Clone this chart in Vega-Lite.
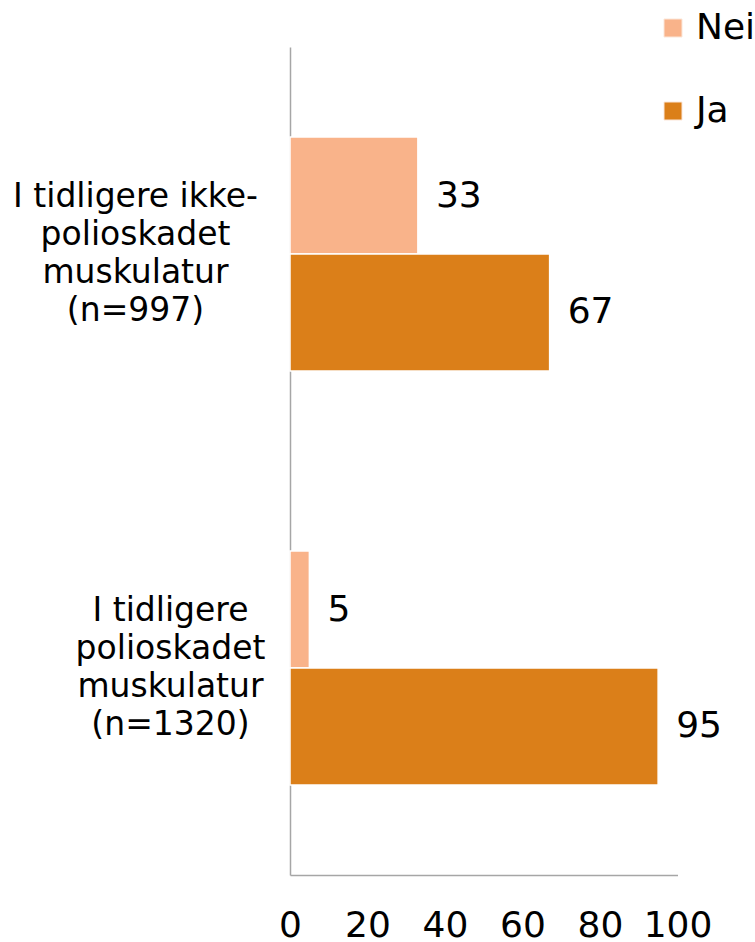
{
  "$schema": "https://vega.github.io/schema/vega-lite/v6.json",
  "width": 387.5,
  "height": 828,
  "autosize": {"type": "none"},
  "padding": {"left": 290, "top": 47, "right": 77, "bottom": 67},
  "background": "white",
  "config": {"view": {"stroke": null}, "font": "DejaVu Sans"},
  "data": {
    "values": [
      {"cat": "I tidligere ikke-|polioskadet|muskulatur|(n=997)", "ans": "Nei", "value": 33},
      {"cat": "I tidligere ikke-|polioskadet|muskulatur|(n=997)", "ans": "Ja", "value": 67},
      {"cat": "I tidligere|polioskadet|muskulatur|(n=1320)", "ans": "Nei", "value": 5},
      {"cat": "I tidligere|polioskadet|muskulatur|(n=1320)", "ans": "Ja", "value": 95}
    ]
  },
  "encoding": {
    "y": {
      "field": "cat",
      "type": "nominal",
      "sort": null,
      "scale": {"paddingInner": 0.435, "paddingOuter": 0.2175},
      "axis": {
        "title": null,
        "ticks": false,
        "tickSize": 0,
        "domainColor": "#a6a6a6",
        "domainWidth": 1.5,
        "labelExpr": "split(datum.label, '|')",
        "labelFontSize": 33,
        "labelColor": "#000000",
        "labelLineHeight": 38,
        "labelAlign": "center",
        "labelBaseline": "middle",
        "labelOffset": -57,
        "labelPadding": {"condition": {"test": "indexof(datum.value, 'ikke') >= 0", "value": 155}, "value": 120},
        "labelLimit": 400
      }
    },
    "yOffset": {"field": "ans", "type": "nominal", "scale": {"domain": ["Nei", "Ja"]}},
    "x": {
      "field": "value",
      "type": "quantitative",
      "scale": {"domain": [0, 100], "nice": false},
      "axis": {
        "title": null,
        "values": [0, 20, 40, 60, 80, 100],
        "grid": false,
        "ticks": false,
        "tickSize": 0,
        "domainColor": "#a6a6a6",
        "domainWidth": 1.5,
        "labelFontSize": 36,
        "labelColor": "#000000",
        "labelPadding": 33,
        "labelBaseline": "top",
        "labelFlush": false,
        "labelOverlap": false
      }
    }
  },
  "layer": [
    {
      "mark": {"type": "bar", "stroke": "#ffffff", "strokeWidth": 1.5},
      "encoding": {
        "color": {
          "field": "ans",
          "type": "nominal",
          "scale": {"domain": ["Nei", "Ja"], "range": ["#F9B38A", "#DB7F19"]},
          "legend": {
            "title": null,
            "orient": "none",
            "legendX": 365,
            "legendY": -37,
            "padding": 0,
            "symbolType": "square",
            "symbolSize": 324,
            "symbolStrokeColor": "#fbe6d8",
            "symbolStrokeWidth": 1,
            "labelFontSize": 36,
            "labelColor": "#000000",
            "labelOffset": 5,
            "rowPadding": 47,
            "labelLimit": 300
          }
        }
      }
    },
    {
      "mark": {"type": "text", "align": "left", "baseline": "middle", "dx": 18, "fontSize": 36, "color": "#000000"},
      "encoding": {"text": {"field": "value", "type": "quantitative"}}
    }
  ]
}
